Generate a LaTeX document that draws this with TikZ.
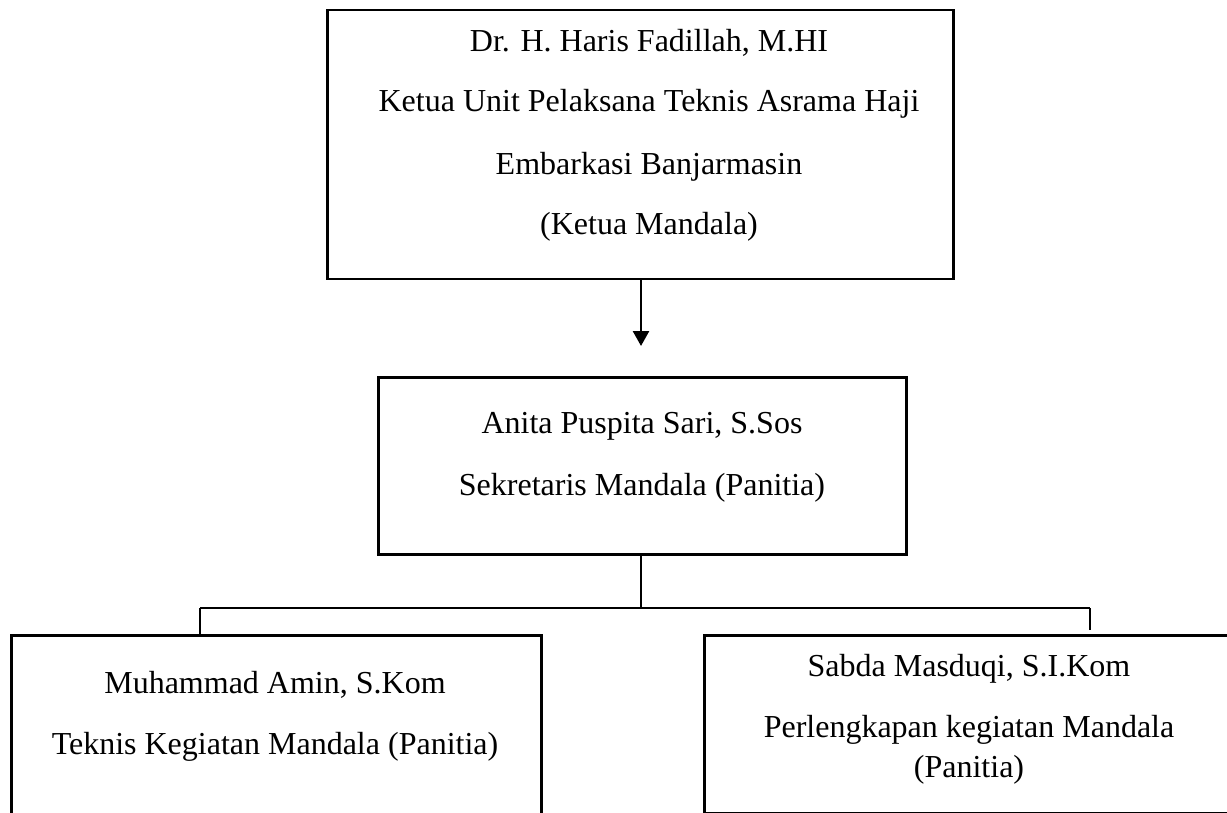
\documentclass[tikz,border=0pt]{standalone}
\usepackage{fontspec}
\setmainfont{Liberation Serif}
\usetikzlibrary{arrows.meta}
\begin{document}
\begin{tikzpicture}[x=1pt,y=-1pt,
  boxstyle/.style={draw=black,line width=2.5pt,rectangle,inner sep=0pt,anchor=north west},
  txt/.style={anchor=base,inner sep=0pt,font=\fontsize{32}{38}\selectfont},
  conn/.style={draw=black,line width=2.5pt},
  arr/.style={conn,-{Triangle[width=16pt,length=15pt]}}]
\useasboundingbox (0,0) rectangle (1227,813);
\clip (0,0) rectangle (1227,813);
\fill[white] (0,0) rectangle (1227,813);
% boxes
\node[boxstyle,minimum width=626pt,minimum height=269pt] (topbox) at (326,9) {};
\node[boxstyle,minimum width=528pt,minimum height=177pt] (midbox) at (377,376) {};
\node[boxstyle,minimum width=530pt,minimum height=230pt] (lbox) at (10,634) {};
\node[boxstyle,minimum width=540pt,minimum height=178pt] (rbox) at (703,634) {};
% texts
\node[txt] (t1) at (649,52) {Dr. H. Haris Fadillah, M.HI};
\node[txt] (t2) at (649,112) {Ketua Unit Pelaksana Teknis Asrama Haji};
\node[txt] (t3) at (649,175) {Embarkasi Banjarmasin};
\node[txt] (t4) at (649,235) {(Ketua Mandala)};
\node[txt] (m1) at (642,433) {Anita Puspita Sari, S.Sos};
\node[txt] (m2) at (642,495) {Sekretaris Mandala (Panitia)};
\node[txt] (l1) at (275,693) {Muhammad Amin, S.Kom};
\node[txt] (l2) at (275,754) {Teknis Kegiatan Mandala (Panitia)};
\node[txt] (r1) at (969,676) {Sabda Masduqi, S.I.Kom};
\node[txt] (r2) at (969,737) {Perlengkapan kegiatan Mandala};
\node[txt] (r3) at (969,777) {(Panitia)};
% connector coordinates
\coordinate (atip) at (641,346);
\coordinate (hub) at (641,608);
\coordinate (lcorner) at (200,608);
\coordinate (rcorner) at (1090,608);
\coordinate (rend) at (1090,630);
% connectors
\draw[arr] (topbox.south -| atip) -- (atip);
\draw[conn] (midbox.south -| hub) -- (hub);
\draw[conn] (lcorner) -- (rcorner);
\draw[conn] (lcorner) -- (lbox.north -| lcorner);
\draw[conn] (rcorner) -- (rend);
\end{tikzpicture}
\end{document}
